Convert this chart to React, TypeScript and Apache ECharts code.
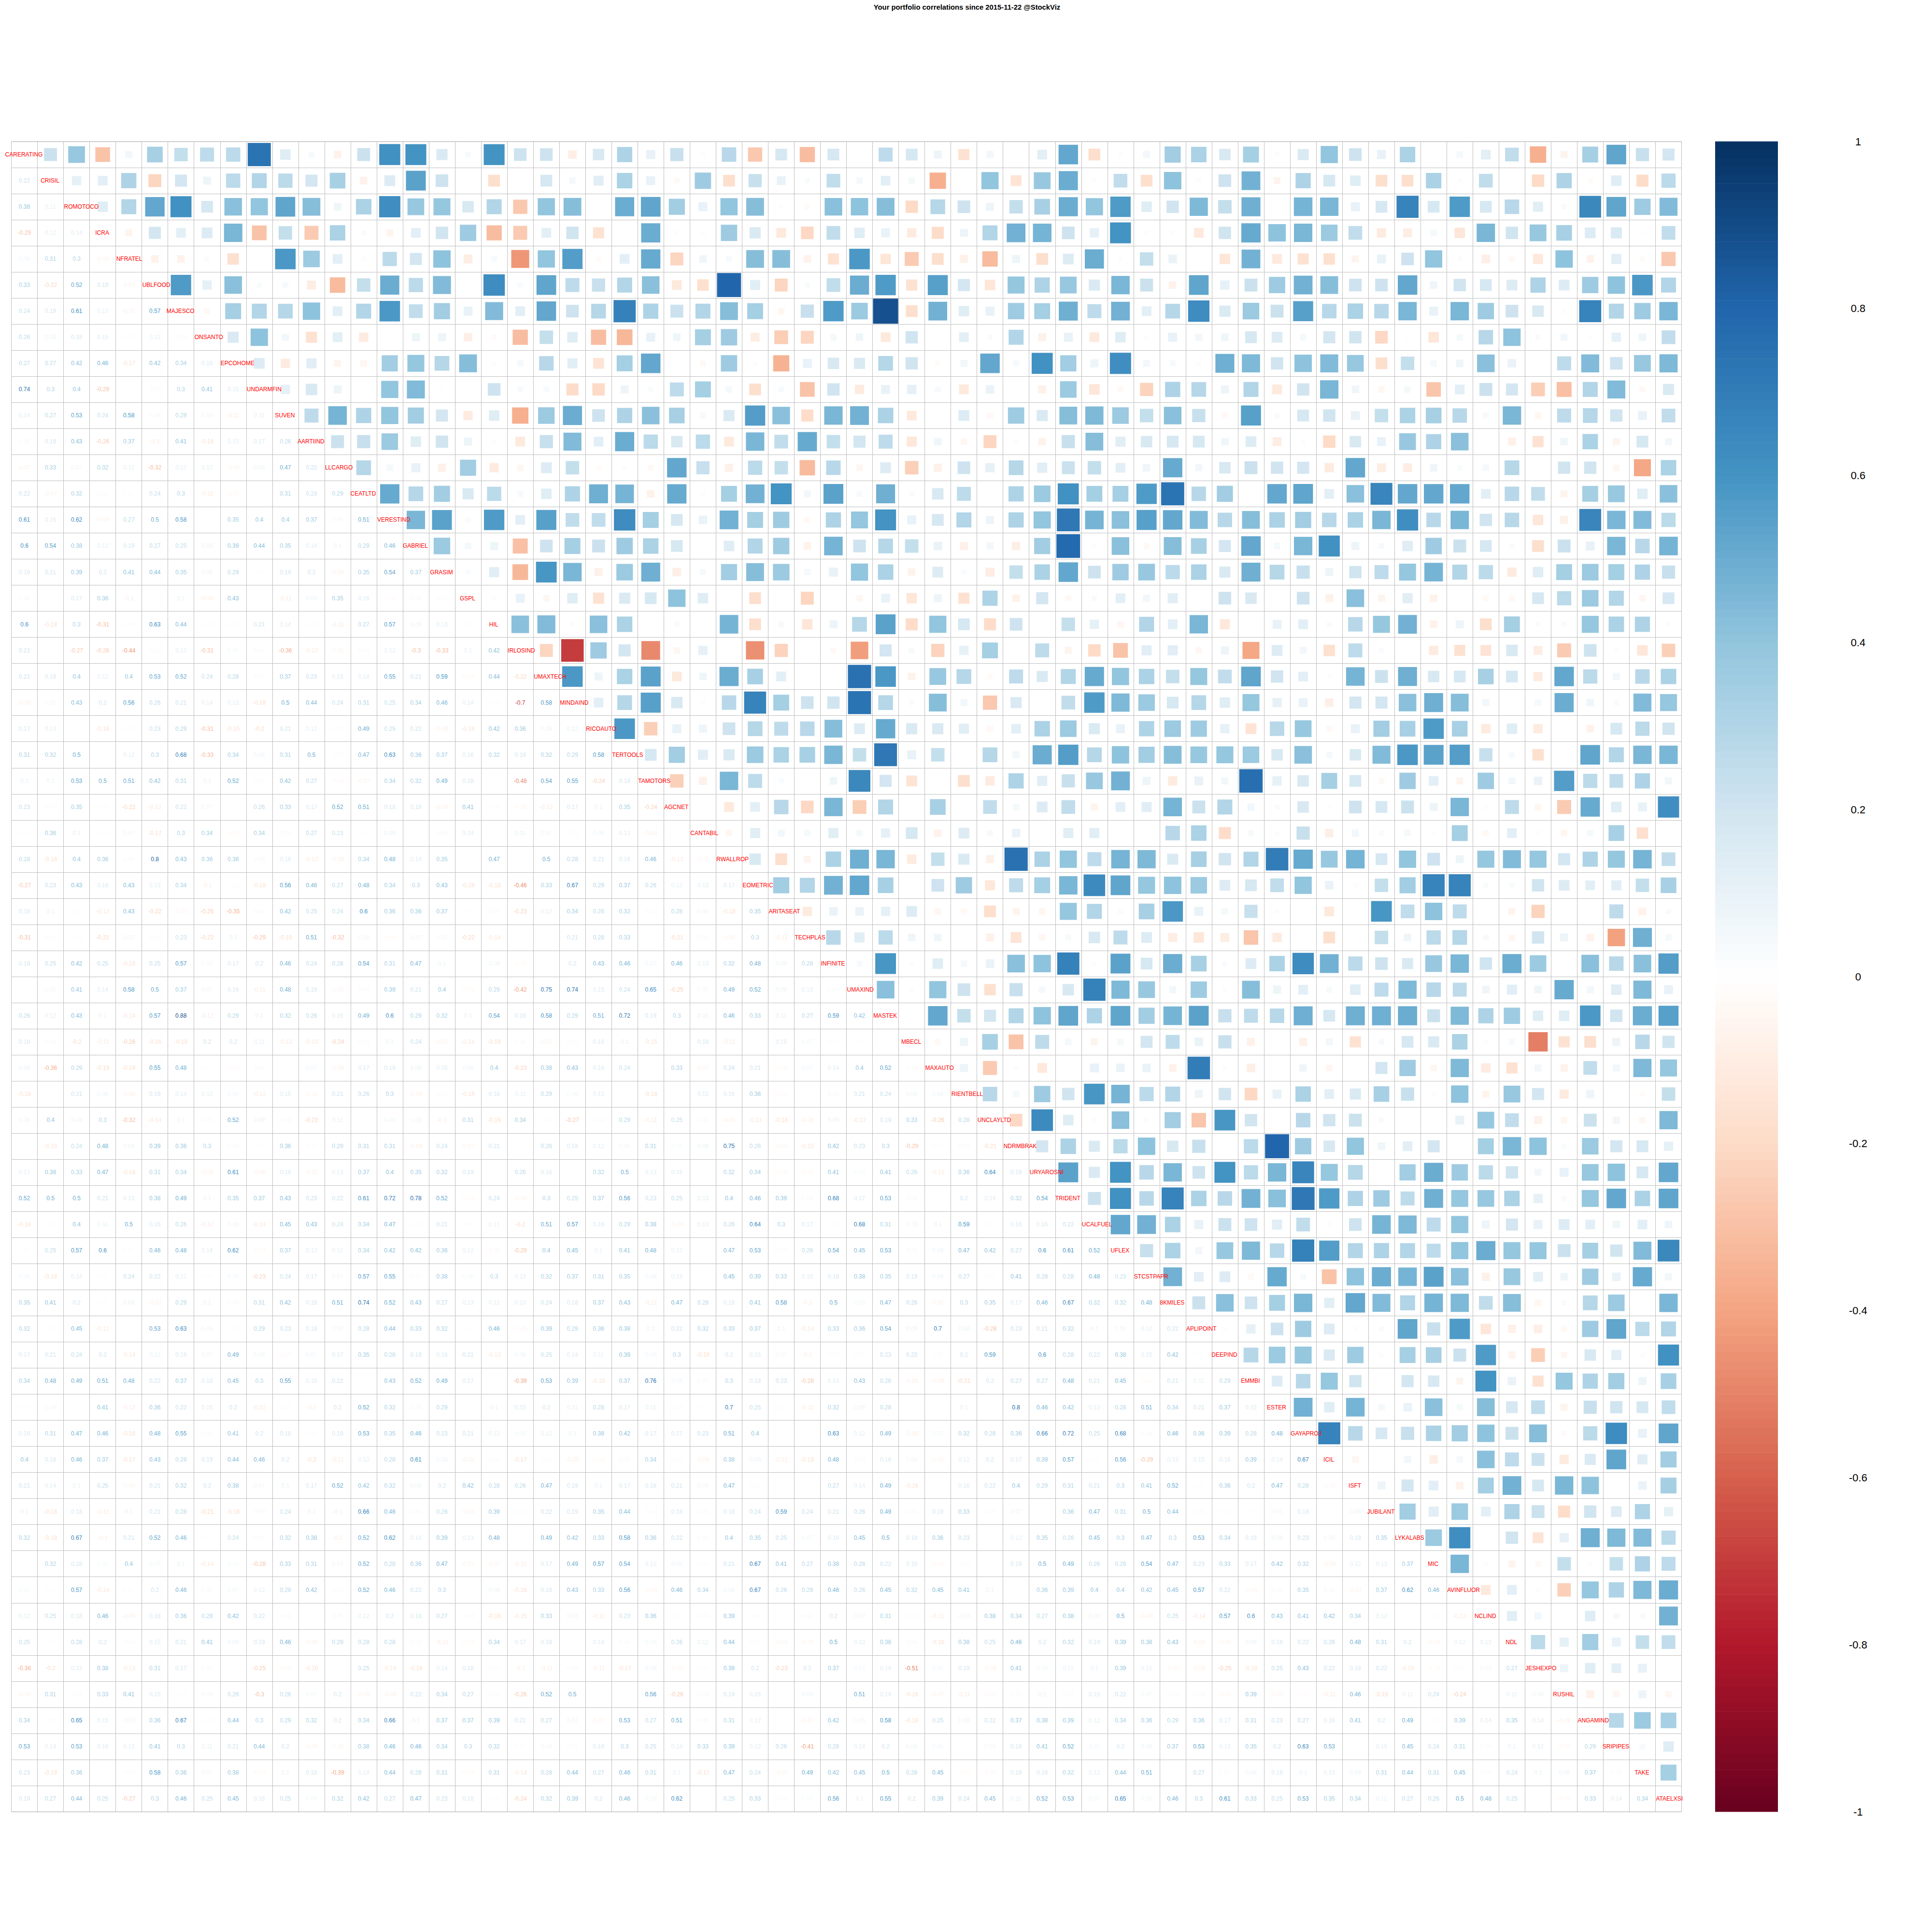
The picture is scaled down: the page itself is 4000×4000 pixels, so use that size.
import React, { useEffect, useRef } from "react";
import * as echarts from "echarts";

const titleText = "Your portfolio correlations since 2015-11-22 @StockViz";
const names = ["CARERATING","CRISIL","ROMOTOCO","ICRA","NFRATEL","UBLFOOD","MAJESCO","ONSANTO","EPCOHOME","UNDARMFIN","SUVEN","AARTIIND","LLCARGO","CEATLTD","VERESTIND","GABRIEL","GRASIM","GSPL","HIL","IRLOSIND","UMAXTECH","MINDAIND","RICOAUTO","TERTOOLS","TAMOTORS","AGCNET","CANTABIL","RWALLROP","EOMETRIC","ARITASEAT","TECHPLAS","INFINITE","UMAXIND","MASTEK","MBECL","MAXAUTO","RIENTBELL","UNCLAYLTD","NDRMBRAK","URYAROSNI","TRIDENT","UCALFUEL","UFLEX","STCSTPAPR","8KMILES","APLIPOINT","DEEPIND","EMMBI","ESTER","GAYAPROJ","ICIL","ISFT","JUBILANT","LYKALABS","MIC","AVINFLUOR","NCLIND","NDL","JESHEXPO","RUSHIL","ANGAMIND","SRIPIPES","TAKE","ATAELXSI"];
const centeredNames = ["CARERATING","CRISIL","ICRA","MAJESCO","SUVEN","AARTIIND","CEATLTD","GABRIEL","GRASIM","GSPL","HIL","AGCNET","INFINITE","MASTEK","MBECL","TRIDENT","UFLEX","8KMILES","DEEPIND","EMMBI","ESTER","ICIL","ISFT","JUBILANT","MIC","NCLIND","NDL","RUSHIL","SRIPIPES","TAKE"];
const paletteStops = ["#67001F","#B2182B","#D6604D","#F4A582","#FDDBC7","#FFFFFF","#D1E5F0","#92C5DE","#4393C3","#2166AC","#053061"];

const r01 = [.22];
const r02 = [.38,.11];
const r03 = [-.29,.12,.14];
const r04 = [.06,.31,.3,-.06];
const r05 = [.33,-.22,.52,.19,-.07];
const r06 = [.24,.19,.61,.12,-.07,.57];
const r07 = [.26,.08,.18,.15,-.02,.11,-.04];
const r08 = [.27,.27,.42,.46,-.17,.42,.34,.16];
const r09 = [.74,.3,.4,-.29,0,.03,.3,.41,.15];
const r10 = [.14,.27,.53,.24,.58,.04,.29,.06,-.11,.11];
const r11 = [.04,.19,.43,-.26,.37,-.1,.41,-.16,.13,.17,.26];
const r12 = [-.07,.33,.07,.32,.12,-.32,.12,.12,-.06,.08,.47,.22];
const r13 = [.22,-.07,.32,.03,.02,.24,.3,-.11,-.05,0,.31,.23,.29];
const r14 = [.61,.15,.62,-.06,.27,.5,.58,0,.35,.4,.4,.37,.05,.51];
const r15 = [.6,.54,.38,.12,.19,.27,.25,.08,.39,.44,.35,.14,.1,.29,.46];
const r16 = [.16,.21,.39,.2,.41,.44,.35,.08,.29,-.01,.19,.2,-.08,.35,.54,.37];
const r17 = [.04,0,.17,.36,-.1,0,.1,-.09,.43,0,-.11,.08,.35,.16,-.03,.05,.03];
const r18 = [.6,-.18,.3,-.31,.04,.63,.44,-.03,-.02,.21,.14,-.02,-.11,.27,.57,.08,.13,.02];
const r19 = [.21,.01,-.27,-.26,-.44,.03,.12,-.31,.05,.04,-.36,-.12,-.05,.04,.12,-.3,-.33,.1,.42];
const r20 = [.21,.18,.4,.12,.4,.53,.52,.24,.28,.04,.37,.23,.15,.14,.55,.21,.59,-.05,.44,-.22];
const r21 = [-.09,.05,.43,.2,.56,.26,.21,.14,.13,-.19,.5,.44,.24,.31,.25,.34,.46,.14,-.02,-.7,.58];
const r22 = [.17,.13,.01,-.16,-.03,.23,.29,-.31,-.15,-.2,.21,.12,-.03,.49,.25,.22,-.08,-.16,.42,.36,.08,.12];
const r23 = [.31,.32,.5,.01,.12,.3,.68,-.33,.34,.08,.31,.5,.02,.47,.63,.36,.37,.16,.32,.19,.32,.29,.58];
const r24 = [.1,.1,.53,.5,.51,.42,.31,.1,.52,.03,.42,.27,-.04,-.07,.34,.32,.49,.18,.01,-.48,.54,.55,-.24,.18];
const r25 = [.23,-.04,.35,.02,-.22,-.12,.22,.07,0,.26,.33,.17,.52,.51,.18,.18,-.09,.41,.03,-.05,-.12,.17,.1,.35,-.24];
const r26 = [.02,.36,.1,-.02,.07,-.17,.3,.34,-.04,.34,.04,.27,.23,-.02,.09,0,.04,.14,.01,.11,.07,-.02,.08,.13,-.08,-.01];
const r27 = [.28,-.18,.4,.36,.04,.8,.43,.36,.36,.05,.16,-.12,-.08,.34,.48,.14,.35,0,.47,0,.5,.28,.21,.16,.46,-.12,-.05];
const r28 = [-.27,.23,.43,.16,.43,.13,.34,-.1,.02,-.18,.56,.46,.27,.48,.34,.3,.43,-.18,-.18,-.46,.33,.67,.29,.37,.26,.12,.13,.17];
const r29 = [.18,.1,.02,-.12,.43,-.22,-.05,-.25,-.35,.04,.42,.25,.24,.6,.36,.36,.37,.01,.04,-.23,.12,.34,.26,.32,.03,.28,.06,-.18,.35];
const r30 = [-.31,.03,-.03,-.21,-.07,.03,.23,-.22,.1,-.29,-.19,.51,-.32,.06,-.04,-.07,.05,-.22,-.14,0,.01,.21,.28,.33,0,-.21,.05,-.06,.3,-.11];
const r31 = [.18,.25,.42,.25,-.16,.25,.57,.05,.17,.2,.46,.24,.28,.54,.31,.47,.1,0,.08,-.04,.01,.2,.43,.46,.07,.46,.13,.32,.48,.09,.28];
const r32 = [.01,.05,.41,.14,.58,.5,.37,.07,.16,-.11,.48,.19,-.05,.04,.39,.21,.4,-.05,.29,-.42,.75,.74,.15,.24,.65,-.25,.05,.49,.52,.09,.13,.04];
const r33 = [.26,.12,.43,.1,-.14,.57,.88,-.12,.29,.1,.32,.26,.15,.49,.6,.29,.32,.1,.54,.19,.58,.29,.51,.72,.19,.3,.11,.46,.33,.11,.27,.59,.42];
const r34 = [.18,.05,-.2,-.11,-.26,-.16,-.18,.2,.2,.11,-.12,-.13,-.24,.03,.1,.24,-.07,-.14,-.19,.04,-.07,-.03,.16,.1,-.15,.01,.18,-.11,.01,.15,.07,-.02,.02,.01];
const r35 = [.08,-.36,.29,-.19,-.18,.55,.48,.01,-.03,.04,0,.07,-.08,.17,.18,.09,.15,.08,.4,-.23,.38,.43,.16,.24,0,.33,-.07,.24,.21,-.05,.07,.14,.4,.52,-.04];
const r36 = [-.16,0,.21,.08,-.08,.19,.14,.12,.06,-.12,.15,-.05,.21,.26,.3,-.08,.03,-.16,.18,.11,.29,.06,.13,0,-.18,0,.15,.16,.36,-.04,.01,.05,.21,.24,.08,.08];
const r37 = [.06,.4,.08,.3,-.32,-.14,.1,.03,.52,.09,-.04,-.22,.11,0,.08,.06,-.1,.31,-.19,.34,-.03,-.27,-.04,.29,-.11,.25,.04,-.08,-.13,-.18,-.08,.09,-.17,.19,.33,-.26,.28];
const r38 = [0,-.15,.24,.48,.08,.39,.36,.3,.04,-.01,.36,-.02,.29,.31,.31,-.09,.24,-.07,.21,.01,.26,.16,.12,.06,.31,.05,.09,.75,.26,-.06,-.15,.42,.23,.3,-.29,.02,.05,-.21];
const r39 = [.12,.38,.33,.47,-.18,.31,.34,-.08,.61,-.08,.16,-.07,.13,.37,.4,.35,.32,.19,0,.26,.16,0,.32,.5,.13,.15,0,.32,.34,-.05,-.05,.41,.05,.41,.26,-.12,.36,.64,.19];
const r40 = [.52,.5,.5,.21,.15,.38,.49,.1,.35,.37,.43,.23,.22,.61,.72,.78,.52,-.04,.24,-.06,.3,.25,.37,.56,.23,.25,.13,.4,.46,.39,.04,.68,.17,.53,.05,0,.2,.14,.32,.54];
const r41 = [-.18,.02,.4,.11,.5,.16,.26,-.12,.08,-.14,.45,.43,.24,.34,.47,.02,.21,.03,.11,-.2,.51,.57,.16,.29,.38,-.06,.13,.26,.64,.3,.17,.02,.68,.31,-.06,.1,.59,.02,.16,.16,.22];
const r42 = [.02,.25,.57,.6,.02,.46,.48,.14,.62,-.04,.37,.13,.12,.34,.42,.42,.36,.12,-.05,-.29,.4,.45,.1,.41,.48,.12,0,.47,.53,-.03,.26,.54,.45,.53,.05,.09,.47,.42,.27,.6,.61,.52];
const r43 = [.06,-.18,.14,-.02,.24,.22,.12,.02,.06,-.23,.24,.17,.07,.57,.55,-.04,.38,.06,.3,.13,.32,.37,.31,.35,.08,.13,.01,.45,.39,.33,.15,.18,.38,.35,.19,.09,.27,.02,.41,.28,.28,.48,.23];
const r44 = [.35,.41,.2,.02,.09,-.07,.29,.1,.04,.31,.42,.18,.51,.74,.52,.43,.27,.13,.12,.13,.24,.18,.37,.43,-.11,.47,.28,.16,.41,.58,-.1,.5,.06,.47,.26,-.07,.3,.35,.17,.46,.67,.32,.32,.48];
const r45 = [.32,.02,.45,-.12,0,.53,.63,.06,.02,.29,.23,.18,.06,.28,.44,.33,.32,.01,.46,-.05,.39,.29,.36,.38,.1,.22,.32,.33,.37,.1,-.14,.33,.36,.54,.09,.7,.08,-.28,.23,.21,.32,.1,.06,.12,.22];
const r46 = [.17,.21,.24,.2,-.14,.11,.16,.07,.49,.08,-.04,.07,.17,.35,.28,.19,.16,.21,-.13,.08,.25,.14,.11,.39,.06,.3,-.19,.2,.15,.05,-.1,.03,.02,.23,.23,.02,.2,.59,0,.6,.28,.22,.38,.15,.42,.02];
const r47 = [.34,.48,.49,.51,.48,.22,.37,.18,.45,.3,.55,.15,.22,0,.43,.52,.49,.17,0,-.39,.53,.39,-.15,.37,.76,.06,.04,.3,.18,.23,-.28,.15,.43,.26,-.08,-.09,-.21,.2,.27,.27,.48,.21,.45,-.04,.21,.11,.29];
const r48 = [.02,-.06,.01,.41,-.12,.36,.22,.15,.2,-.12,.03,-.1,.2,.52,.32,.05,.29,0,.1,.15,.2,.11,.28,.17,.11,.03,.02,.7,.25,-.02,-.11,.32,.08,.28,0,0,.1,0,.8,.46,.42,.13,.28,.51,.34,.21,.37,.15];
const r49 = [.16,.31,.47,.46,-.16,.48,.55,.05,.41,.2,.18,.02,.19,.53,.35,.46,.23,.21,.12,.06,.12,.1,.38,.42,.17,.17,.23,.51,.4,0,0,.63,.12,.49,-.08,.07,.32,.28,.36,.66,.72,.25,.68,.04,.46,.36,.39,.28,.48];
const r50 = [.4,.18,.46,.37,-.17,.43,.28,.19,.44,.46,.2,-.2,-.11,.12,.28,.61,.08,-.08,.03,-.17,.02,-.09,-.04,.05,.34,.02,-.09,.38,.09,-.12,-.18,.48,.04,.18,.06,-.05,.12,.2,.17,.39,.57,.02,.56,-.29,.13,.15,.16,.39,.14,.67];
const r51 = [.21,.14,.1,.25,-.06,.21,.32,.2,.38,.07,.1,.17,.52,.42,.32,.08,.2,.42,.28,.26,.47,.19,.1,.17,.18,.21,.06,.47,.02,0,0,.27,.14,.49,-.16,0,.16,.22,.4,.29,.31,.21,.3,.41,.52,.02,.36,.2,.47,.28,-.05];
const r52 = [.1,-.18,.18,-.11,.1,.21,.28,-.21,-.18,-.05,.24,.1,-.1,.66,.46,.04,.26,-.06,.39,.03,.22,.19,.35,.44,-.04,.18,.03,.18,.24,.59,.24,.21,.26,.49,.04,.19,.33,.03,.07,0,.36,.47,.31,.5,.44,.03,-.02,.01,.05,.18,0,.08];
const r53 = [.32,-.18,.67,-.1,.21,.52,.46,-.01,.24,.05,.32,.38,-.1,.52,.62,.14,.39,.13,.48,0,.49,.42,.33,.58,.36,.22,.05,.4,.35,.25,.07,.16,.45,.5,.18,.36,.23,0,.12,.35,.26,.45,.3,.47,.3,.53,.34,.19,.09,.23,.06,.19,.35];
const r54 = [.01,.32,.18,.05,.4,.07,.1,-.14,.05,-.28,.33,.31,.07,.52,.28,.36,.47,-.07,-.07,-.11,.17,.49,.57,.54,.12,.08,.02,.21,.67,.41,.27,.38,.28,.22,.16,-.05,-.02,0,.19,.5,.49,.26,.26,.54,.47,.23,.33,.17,.42,.32,-.09,.12,.13,.37];
const r55 = [.05,.02,.57,-.14,.02,.2,.46,.05,.07,.12,.28,.42,.03,.52,.46,.22,.3,0,.08,-.16,.18,.43,.33,.56,-.06,.46,.34,.08,.67,.26,.29,.46,.26,.45,.32,.45,.41,.1,0,.36,.39,.4,.4,.42,.45,.57,.22,-.06,.05,.35,.05,-.07,.37,.62,.46];
const r56 = [.12,.25,.18,.46,-.09,.18,.36,.28,.42,.22,.04,0,.05,.12,.2,.18,.27,-.04,-.18,-.15,.33,.06,-.11,.23,.36,.02,-.04,.39,.03,0,.04,.2,.07,.31,.02,-.11,-.06,.38,.34,.27,.38,.08,.5,-.08,.25,-.14,.57,.6,.43,.41,.42,.34,.12,.01,-.02,-.12];
const r57 = [.25,.01,.28,.2,-.04,.15,.21,.41,.09,.19,.46,-.08,.29,.28,.28,.03,-.11,-.04,.34,.17,.18,0,.14,.04,.06,.26,.12,.44,.03,-.06,-.05,.5,.13,.36,.04,-.16,.38,.25,.46,.2,.32,.19,.39,.38,.43,-.08,-.06,.09,.18,.22,.26,.48,.31,.2,-.06,.12,.13];
const r58 = [-.36,-.2,.13,.38,-.13,.31,.17,.03,.01,-.25,-.05,-.16,0,.25,-.14,-.18,.14,.18,-.03,-.1,-.11,.05,-.11,-.17,.09,-.05,-.02,.39,.2,-.23,.2,.37,.07,.14,-.51,.06,.19,-.08,.41,.06,.11,.1,.39,.12,-.05,-.09,-.25,-.16,.25,.43,.22,.18,.22,-.15,-.04,.02,.06,.27];
const r59 = [-.06,.31,.03,.33,.41,.15,.02,.06,.26,-.3,.26,.07,.2,-.06,-.08,.22,.34,.27,.03,-.26,.52,.5,0,.01,.56,-.26,-.05,.19,.15,0,.08,0,.51,.14,-.16,-.07,-.11,-.05,.03,.1,.03,.15,.22,.07,.03,-.04,-.05,.39,-.06,-.03,-.11,.46,-.19,.11,.24,-.24,0,.11,.08];
const r60 = [.34,-.03,.65,.15,-.07,.36,.67,-.02,.44,.3,.29,.32,.2,.34,.66,.1,.37,.37,.39,.21,.27,.07,-.07,.53,.27,.51,.05,.31,.12,0,-.07,.42,.06,.58,-.18,.25,.08,.22,.37,.38,.39,.12,.34,.36,.29,.36,.17,.31,.23,.27,.16,.41,.2,.49,.02,.39,.14,.35,.14,-.08];
const r61 = [.53,.14,.53,.16,.13,.41,.3,.11,.21,.44,.2,-.06,-.05,.38,.46,.46,.34,.3,.32,.02,.06,.03,.18,.3,.25,.14,.33,.39,.13,.26,-.41,.28,.14,.2,.08,.06,0,.06,.19,.41,.52,.07,.2,.09,.37,.53,.13,.35,.2,.63,.53,0,.15,.45,.24,.31,.04,.1,.12,-.05,.29];
const r62 = [.23,-.19,.36,-.01,-.03,.58,.36,.07,.38,-.04,.1,.18,-.39,.14,.44,.28,.31,-.05,.31,-.14,.28,.44,.27,.46,.31,.1,-.17,.47,.24,-.07,.49,.42,.45,.5,.28,.45,-.03,-.05,.18,.18,.32,.12,.44,.51,0,.27,.02,.08,.18,.1,.13,.09,.31,.44,.31,.45,.03,.24,.1,.08,.37,.04];
const r63 = [.19,.27,.44,.25,-.27,.3,.46,.25,.45,.16,.25,.06,.32,.42,.27,.47,.23,.18,.02,-.24,.32,.39,.2,.46,.06,.62,.01,.25,.33,.03,.05,.56,.1,.55,.2,.39,.24,.45,.11,.52,.53,.07,.65,.06,.46,.3,.61,.33,.25,.53,.35,.34,.11,.27,.26,.5,.48,.25,.01,-.05,.33,.14,.34];

const lowerRows = [[],r01,r02,r03,r04,r05,r06,r07,r08,r09,r10,r11,r12,r13,r14,r15,r16,r17,r18,r19,r20,r21,r22,r23,r24,r25,r26,r27,r28,r29,r30,r31,r32,r33,r34,r35,r36,r37,r38,r39,r40,r41,r42,r43,r44,r45,r46,r47,r48,r49,r50,r51,r52,r53,r54,r55,r56,r57,r58,r59,r60,r61,r62,r63];

function hexToRgb(h: string) {
  return [1, 3, 5].map((i) => parseInt(h.slice(i, i + 2), 16));
}
function corrColor(v: number) {
  const t = ((Math.max(-1, Math.min(1, v)) + 1) / 2) * (paletteStops.length - 1);
  const i = Math.min(paletteStops.length - 2, Math.floor(t));
  const f = t - i;
  const a = hexToRgb(paletteStops[i]);
  const b = hexToRgb(paletteStops[i + 1]);
  return `rgb(${a.map((c, k) => Math.round(c + (b[k] - c) * f)).join(",")})`;
}

const FONT = '"Liberation Sans", Arial, sans-serif';

export default function App() {
  const ref = useRef<HTMLDivElement>(null);
  useEffect(() => {
    if (!ref.current) return;
    const chart = echarts.init(ref.current, undefined, { renderer: "svg" });
    const upper: number[][] = [];
    const lower: number[][] = [];
    lowerRows.forEach((row, i) =>
      row.forEach((v, j) => {
        if (v === 0) return;
        lower.push([j, i, v]);
        upper.push([i, j, v]);
      })
    );
    const diag = names.map((_, i) => [i, i]);
    const barValues: number[] = [];
    for (let k = 0; k < 200; k++) barValues.push(-1 + k * 0.01);

    chart.setOption({
      animation: false,
      backgroundColor: "#ffffff",
      title: {
        text: titleText,
        left: 1997,
        top: 2,
        textAlign: "center",
        textStyle: { fontFamily: FONT, fontSize: 14.8, fontWeight: "bold", color: "#000000" },
      },
      grid: [
        { left: 23.5, top: 293, width: 3458, height: 3458, show: true, borderColor: "#bebebe", borderWidth: 1, backgroundColor: "transparent" },
        { left: 3551, top: 293, width: 130, height: 3458 },
      ],
      xAxis: [
        {
          type: "category", gridIndex: 0, data: names, boundaryGap: true,
          axisLabel: { show: false }, axisTick: { show: false }, axisLine: { show: false },
          splitLine: { show: true, interval: 0, lineStyle: { color: "#bebebe", width: 1 } },
        },
        { type: "value", gridIndex: 1, min: 0, max: 1, show: false },
      ],
      yAxis: [
        {
          type: "category", gridIndex: 0, data: names, inverse: true, boundaryGap: true,
          axisLabel: { show: false }, axisTick: { show: false }, axisLine: { show: false },
          splitLine: { show: true, interval: 0, lineStyle: { color: "#bebebe", width: 1 } },
        },
        {
          type: "value", gridIndex: 1, min: -1, max: 1, interval: 0.2, position: "right",
          axisLine: { show: false }, axisTick: { show: false }, splitLine: { show: false },
          axisLabel: { show: true, color: "#000000", fontFamily: FONT, fontSize: 22, margin: 166, align: "center" },
        },
      ],
      series: [
        {
          type: "custom", xAxisIndex: 0, yAxisIndex: 0, data: upper, silent: true, progressive: 0,
          encode: { x: 0, y: 1 },
          renderItem: (_: any, api: any) => {
            const c = api.coord([api.value(0), api.value(1)]);
            const v = api.value(2);
            const s = 54 * Math.sqrt(Math.abs(v)) + 1.4;
            return {
              type: "rect",
              shape: { x: c[0] - s / 2, y: c[1] - s / 2, width: s, height: s },
              style: { fill: corrColor(v) },
            };
          },
        },
        {
          type: "custom", xAxisIndex: 0, yAxisIndex: 0, data: lower, silent: true, progressive: 0,
          encode: { x: 0, y: 1 },
          renderItem: (_: any, api: any) => {
            const c = api.coord([api.value(0), api.value(1)]);
            const v = api.value(2);
            return {
              type: "text",
              style: {
                x: c[0], y: c[1], text: String(v), fill: corrColor(v),
                font: `12px ${FONT}`, align: "center", verticalAlign: "middle",
                textAlign: "center", textVerticalAlign: "middle",
              },
            };
          },
        },
        {
          type: "custom", xAxisIndex: 0, yAxisIndex: 0, data: diag, silent: true, progressive: 0, z: 5,
          encode: { x: 0, y: 1 },
          renderItem: (_: any, api: any) => {
            const i = api.value(0);
            const c = api.coord([i, i]);
            const name = names[i];
            const centered = centeredNames.includes(name);
            const a = centered ? "center" : "left";
            return {
              type: "text",
              style: {
                x: centered ? c[0] - 1 : c[0] - 26, y: c[1], text: name, fill: "#ff0000",
                font: `12px ${FONT}`, align: a, verticalAlign: "middle",
                textAlign: a, textVerticalAlign: "middle",
              },
            };
          },
        },
        {
          type: "custom", xAxisIndex: 1, yAxisIndex: 1, data: barValues.map((v) => [v]), silent: true, progressive: 0,
          encode: { y: 0 },
          renderItem: (_: any, api: any) => {
            const v = api.value(0);
            const a = api.coord([0, v]);
            const b = api.coord([1, v + 0.01]);
            return {
              type: "rect",
              shape: { x: a[0], y: b[1] - 0.3, width: b[0] - a[0], height: a[1] - b[1] + 0.6 },
              style: { fill: corrColor(v + 0.005) },
            };
          },
        },
      ],
    });
    return () => chart.dispose();
  }, []);
  return <div ref={ref} style={{ position: "absolute", left: 0, top: 0, width: 4000, height: 4000 }} />;
}
